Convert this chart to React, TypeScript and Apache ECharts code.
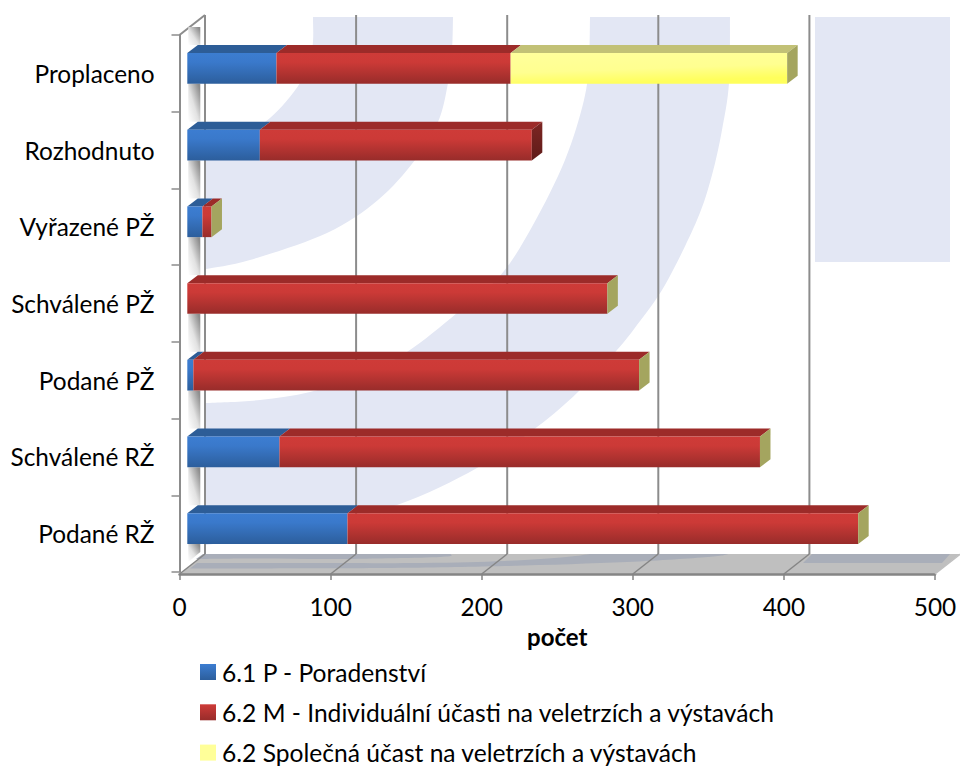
import React, { useEffect, useRef } from "react";
import * as echarts from "echarts";

const categories = ["Podané RŽ", "Schválené RŽ", "Podané PŽ", "Schválené PŽ", "Vyřazené PŽ", "Rozhodnuto", "Proplaceno"];
const poradenstvi = [106, 61, 4, 0, 10, 48, 59];
const individualni = [338, 318, 295, 278, 6, 180, 155];
const spolecna: (number | null)[] = [0, 0, 0, 0, 0, null, 183];
const seriesNames = ["6.1 P - Poradenství", "6.2 M - Individuální účasti na veletrzích a výstavách", "6.2 Společná účast na veletrzích a výstavách"];
const xTicks = [0, 100, 200, 300, 400, 500];

const FONT = "Lato";
const FS = 24.4;
const LEGEND_FS = 24.6;
const WALL = { dx: 25.5, dy: -20 };
const BAR = { ox: 7.8, oy: -5, dx: 10.5, dy: -8, ratio: 0.4 };

function smoothPath(pts: number[][]): string {
  let d = "";
  for (let i = 0; i < pts.length - 1; i++) {
    const p0 = pts[Math.max(i - 1, 0)], p1 = pts[i], p2 = pts[i + 1], p3 = pts[Math.min(i + 2, pts.length - 1)];
    const c1 = [p1[0] + (p2[0] - p0[0]) / 6, p1[1] + (p2[1] - p0[1]) / 6];
    const c2 = [p2[0] - (p3[0] - p1[0]) / 6, p2[1] - (p3[1] - p1[1]) / 6];
    d += `C${c1[0]},${c1[1]} ${c2[0]},${c2[1]} ${p2[0]},${p2[1]} `;
  }
  return d;
}
const closed = (outer: number[][], inner: number[][]) =>
  `M${outer[0][0]},${outer[0][1]} ` + smoothPath(outer) + `L${inner[0][0]},${inner[0][1]} ` + smoothPath(inner) + "Z";

const swooshA = closed(
  [[453, 17], [452, 50], [448, 83], [438, 122], [415, 160], [378, 200], [327, 233], [250, 260], [206, 269]],
  [[206, 142], [240, 134], [270, 118], [300, 83], [312, 50], [313, 17]]
);
const swooshB = closed(
  [[730, 17], [729, 83], [722, 130], [712, 175], [697, 220], [665, 285], [637, 325], [617, 350], [578, 392], [537, 427], [477, 468], [397, 505], [300, 530], [206, 545]],
  [[206, 403], [260, 400], [310, 392], [360, 376], [407, 352], [457, 313], [500, 276], [533, 225], [565, 160], [584, 100], [589, 60], [590, 17]]
);
const floorA = closed(
  [[451, 554], [440, 557], [340, 559], [260, 558.5], [196, 559]],
  [[203, 554], [451, 554]]
);
const floorB = closed(
  [[729, 554], [708, 557], [627, 562], [505, 566], [382, 568], [190, 568.5]],
  [[197, 563], [300, 563], [423, 563], [505, 561], [566, 557], [590, 554]]
);
echarts.graphic.registerShape("swooshA", echarts.graphic.extendPath(swooshA, {}) as any);
echarts.graphic.registerShape("swooshB", echarts.graphic.extendPath(swooshB, {}) as any);
echarts.graphic.registerShape("floorA", echarts.graphic.extendPath(floorA, {}) as any);
echarts.graphic.registerShape("floorB", echarts.graphic.extendPath(floorB, {}) as any);

const grad = (stops: [number, string][], x2 = 0, y2 = 1) =>
  new echarts.graphic.LinearGradient(0, 0, x2, y2, stops.map(([offset, color]) => ({ offset, color })));

const faces = [
  { face: grad([[0, "#3C7DD1"], [0.3, "#3A79CB"], [1, "#2C5E9C"]]), top: "#2D5D97", side: "#24497A" },
  { face: grad([[0, "#CE3B38"], [0.3, "#CC3A37"], [1, "#982C2A"]]), top: "#9C2B29", side: grad([[0, "#7D2623"], [1, "#5F1B19"]]) },
  { face: grad([[0, "#FFFF9C"], [0.6, "#FFFF90"], [1, "#FFFF5C"]], 0.3, 1), top: "#C2C176", side: "#A4A55F" },
];

function stacked() {
  const rows: any[][] = [[], [], []];
  categories.forEach((_, i) => {
    let acc = 0;
    [poradenstvi[i], individualni[i], spolecna[i]].forEach((v, s) => {
      if (v === null) return;
      const cap = s === 2 || (s === 1 && spolecna[i] === null) ? 1 : 0;
      rows[s].push([acc, i, acc + v, cap]);
      acc += v;
    });
  });
  return rows;
}

function barItem(s: number) {
  return (_: any, api: any) => {
    const start = api.value(0), cat = api.value(1), end = api.value(2), cap = api.value(3);
    const [xa, yc] = api.coord([start, cat]);
    const [xb] = api.coord([end, cat]);
    const h = api.size([0, 1])[1] * BAR.ratio;
    const x0 = xa + BAR.ox, x1 = xb + BAR.ox;
    const yT = yc + BAR.oy - h / 2, yB = yT + h;
    const { dx, dy } = BAR;
    const children: any[] = [];
    if (end > start) {
      children.push({ type: "polygon", shape: { points: [[x0, yT], [x1, yT], [x1 + dx, yT + dy], [x0 + dx, yT + dy]] }, style: { fill: faces[s].top } });
      children.push({ type: "rect", shape: { x: x0, y: yT, width: x1 - x0, height: h }, style: { fill: faces[s].face } });
    }
    if (cap) {
      children.push({ type: "polygon", shape: { points: [[x1, yT], [x1 + dx, yT + dy], [x1 + dx, yB + dy], [x1, yB]] }, style: { fill: faces[s].side } });
    }
    return { type: "group", children };
  };
}

function gridItem(params: any, api: any) {
  const v = api.value(0);
  const cs = params.coordSys;
  const [x] = api.coord([v, 0]);
  const front = cs.y + cs.height + 2;
  const back = front + WALL.dy;
  const top = cs.y + WALL.dy;
  const children: any[] = [];
  if (v !== xTicks[xTicks.length - 1]) {
    children.push({ type: "line", shape: { x1: x + WALL.dx, y1: top, x2: x + WALL.dx, y2: back }, style: { stroke: "#8C8C8C", lineWidth: 2 } });
  }
  children.push({
    type: "line",
    shape: { x1: x, y1: front, x2: x + WALL.dx, y2: back },
    style: { stroke: v === xTicks[xTicks.length - 1] ? "#BFBFBF" : "#858585", lineWidth: 1.5 },
  });
  if (v === 0) {
    children.push({ type: "line", shape: { x1: x, y1: cs.y, x2: x + WALL.dx, y2: top }, style: { stroke: "#8C8C8C", lineWidth: 2 } });
  }
  return { type: "group", children };
}

const wallGrad = () =>
  new echarts.graphic.LinearGradient(0, 1, 0.9, 0.1, [
    { offset: 0, color: "#FFFFFF" },
    { offset: 0.5, color: "#E2E2E2" },
    { offset: 1, color: "#8E8E8E" },
  ]);

function wallItem(_: any, api: any) {
  const cat = api.value(0);
  const [x, yc] = api.coord([0, cat]);
  const h = api.size([0, 1])[1];
  const faceTop = yc + BAR.oy - (h * BAR.ratio) / 2;
  const stripTop = cat === categories.length - 1 ? faceTop - 26 : faceTop + BAR.dy - h * (1 - BAR.ratio) + 8;
  const rects: any[] = [
    { type: "rect", shape: { x: x + BAR.ox + 1, y: stripTop, width: 12, height: faceTop + BAR.dy - stripTop }, style: { fill: wallGrad() } },
  ];
  if (cat === 0) {
    const bottom = faceTop + h * BAR.ratio;
    rects.push({ type: "polygon", shape: { points: [[x + BAR.ox + 1, bottom], [x + BAR.ox + 13, bottom], [x + BAR.ox + 13, bottom + 8], [x + BAR.ox + 1, bottom + 18]] }, style: { fill: wallGrad() } });
  }
  return { type: "group", children: rects };
}

export default function App() {
  const ref = useRef<HTMLDivElement>(null);
  useEffect(() => {
    const chart = echarts.init(ref.current!, undefined, { renderer: "svg" });
    const rows = stacked();
    chart.setOption({
      animation: false,
      backgroundColor: "#FFFFFF",
      textStyle: { fontFamily: FONT },
      grid: { left: 179.5, top: 35, width: 755.5, height: 537 },
      graphic: {
        elements: [
          { type: "swooshA", x: 0, y: 0, style: { fill: "#E3E7F4" } },
          { type: "swooshB", x: 0, y: 0, style: { fill: "#E3E7F4" } },
          { type: "rect", shape: { x: 815, y: 17, width: 135, height: 245 }, style: { fill: "#E3E7F4" } },
          { type: "polygon", shape: { points: [[179.5, 574], [935, 574], [960, 554], [205, 554]] }, style: { fill: "#BFBFBF" } },
          { type: "floorA", x: 0, y: 0, style: { fill: "#A9AEB9" } },
          { type: "floorB", x: 0, y: 0, style: { fill: "#A9AEB9" } },
          { type: "polygon", shape: { points: [[812, 554], [950, 554], [942, 563], [803, 563]] }, style: { fill: "#A9AEB9" } },
        ],
      },
      xAxis: {
        type: "value",
        min: 0,
        max: 500,
        interval: 100,
        offset: 2,
        splitLine: { show: false },
        axisLine: { show: true, lineStyle: { color: "#858585", width: 2.5 } },
        axisTick: { show: true, length: 6, lineStyle: { color: "#858585", width: 1.5 } },
        axisLabel: { color: "#000", fontFamily: FONT, fontSize: FS, margin: 20 },
        name: "počet",
        nameLocation: "middle",
        nameGap: 50,
        nameTextStyle: { color: "#000", fontFamily: FONT, fontSize: 24, fontWeight: "bold" },
      },
      yAxis: {
        type: "category",
        data: categories,
        axisLine: { show: true, lineStyle: { color: "#8C8C8C", width: 2 } },
        axisTick: { show: true, length: 8, lineStyle: { color: "#8C8C8C", width: 1.5 } },
        axisLabel: { color: "#000", fontFamily: FONT, fontSize: FS, margin: 25 },
      },
      legend: {
        left: 200,
        top: 659.5,
        height: 106,
        orient: "vertical",
        padding: 0,
        itemWidth: 16,
        itemHeight: 16,
        itemGap: 15.3,
        selectedMode: false,
        icon: "rect",
        data: seriesNames,
        textStyle: { color: "#000", fontFamily: FONT, fontSize: LEGEND_FS, padding: [0, 0, 0, 1] },
      },
      series: [
        { type: "custom", name: "mřížka", z: 1, silent: true, renderItem: gridItem, data: xTicks.map((v) => [v, 0]), encode: { x: 0, y: 1 } },
        { type: "custom", name: "stěna", z: 1, silent: true, renderItem: wallItem, data: categories.map((_, i) => [i]), encode: { y: 0 } },
        ...seriesNames.map((name, s) => ({
          type: "custom",
          name,
          z: 3,
          silent: true,
          renderItem: barItem(s),
          itemStyle: { color: s === 0 ? grad([[0, "#3C7DD1"], [1, "#2C5E9C"]]) : s === 1 ? grad([[0, "#CE3B38"], [1, "#982C2A"]]) : "#FFFF99" },
          data: rows[s],
          encode: { x: [0, 2], y: 1 },
        })),
      ],
    });
    return () => chart.dispose();
  }, []);
  return <div ref={ref} style={{ position: "absolute", left: 0, top: 0, width: 960, height: 767 }} />;
}
